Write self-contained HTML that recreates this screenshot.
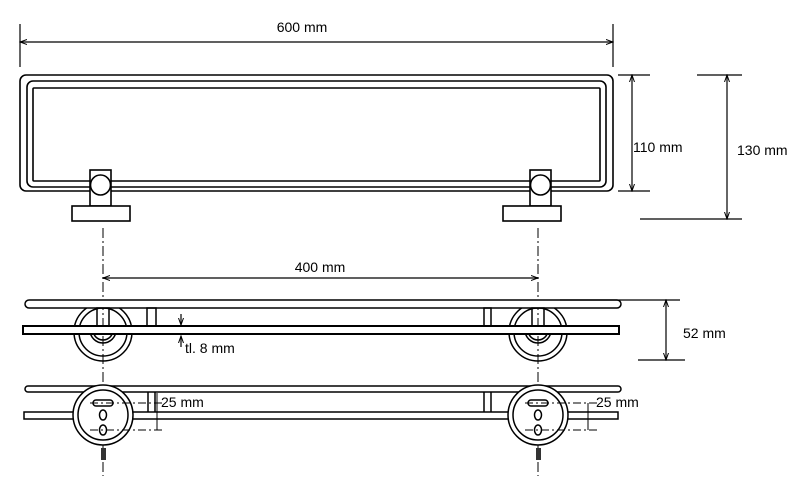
<!DOCTYPE html>
<html><head><style>html,body{margin:0;padding:0;background:#fff;}svg{display:block}</style></head>
<body>
<svg width="800" height="486" viewBox="0 0 800 486" xmlns="http://www.w3.org/2000/svg" font-family="Liberation Sans, sans-serif" font-size="14">
<defs>
<marker id="a" markerWidth="8" markerHeight="6" refX="7" refY="3" orient="auto-start-reverse" markerUnits="userSpaceOnUse"><path d="M0,0.5 L7,3 L0,5.5" fill="none" stroke="#000" stroke-width="1"/></marker>
</defs>
<g fill="none" stroke="#000" stroke-width="1.6">
<!-- top view -->
<rect x="20" y="75" width="593" height="116" rx="6"/>
<rect x="27" y="81" width="579" height="106" rx="6"/>
<rect x="33" y="88" width="567" height="93" rx="1"/>
<g fill="#fff">
<rect x="90" y="170" width="21" height="36"/>
<circle cx="100.5" cy="185" r="10"/>
<rect x="72" y="206" width="58" height="15"/>
<rect x="530" y="170" width="21" height="36"/>
<circle cx="540.5" cy="185" r="10"/>
<rect x="503" y="206" width="58" height="15"/>
</g>
</g>
<g stroke="#000" stroke-width="1.2" fill="none">
<!-- 600 dim -->
<line x1="20" y1="24" x2="20" y2="67"/>
<line x1="613" y1="24" x2="613" y2="67"/>
<line x1="20" y1="42" x2="613" y2="42" marker-start="url(#a)" marker-end="url(#a)"/>
<!-- 110 -->
<line x1="618" y1="75" x2="650" y2="75"/><line x1="618" y1="191" x2="650" y2="191"/>
<line x1="632" y1="75" x2="632" y2="191" marker-start="url(#a)" marker-end="url(#a)"/>
<!-- 130 -->
<line x1="697" y1="75" x2="742" y2="75"/><line x1="640" y1="219" x2="742" y2="219"/>
<line x1="727" y1="75" x2="727" y2="219" marker-start="url(#a)" marker-end="url(#a)"/>
<!-- center lines -->
<line x1="103" y1="228" x2="103" y2="476" stroke-width="1" stroke-dasharray="10,3,2,3"/>
<line x1="538" y1="228" x2="538" y2="476" stroke-width="1" stroke-dasharray="10,3,2,3"/>
<!-- 400 -->
<line x1="103" y1="278" x2="538" y2="278" marker-start="url(#a)" marker-end="url(#a)"/>
</g>
<!-- middle view -->
<g stroke="#000" stroke-width="1.5" fill="none">
<circle cx="103" cy="332" r="29"/><circle cx="103" cy="332" r="24"/>
<path d="M90,330 A13,13 0 0 0 116,330 M93,330 A10,10 0 0 0 113,330"/>
<circle cx="538" cy="332" r="29"/><circle cx="538" cy="332" r="24"/>
<path d="M525,330 A13,13 0 0 0 551,330 M528,330 A10,10 0 0 0 548,330"/>
<rect x="25" y="300" width="596" height="8" rx="4" fill="#fff"/>
<rect x="23" y="326" width="596" height="8" fill="#fff" stroke-width="2"/>
<rect x="97" y="308" width="12" height="18"/>
<rect x="147" y="308" width="9" height="18"/>
<rect x="484" y="308" width="7" height="18"/>
<rect x="532" y="308" width="12" height="18"/>
</g>
<g stroke="#000" stroke-width="1.2" fill="none">
<line x1="560" y1="300" x2="680" y2="300"/><line x1="638" y1="360" x2="685" y2="360"/>
<line x1="666" y1="300" x2="666" y2="360" marker-start="url(#a)" marker-end="url(#a)"/>
<line x1="181" y1="314" x2="181" y2="325" marker-end="url(#a)"/>
<line x1="181" y1="347" x2="181" y2="336" marker-end="url(#a)"/>
</g>
<!-- bottom view -->
<g stroke="#000" stroke-width="1.5" fill="none">
<rect x="25" y="386" width="596" height="6" rx="3"/>
<rect x="24" y="412" width="594" height="7"/>
<line x1="484" y1="392" x2="484" y2="412"/><line x1="491" y1="392" x2="491" y2="412"/>
<line x1="148" y1="392" x2="148" y2="412"/><line x1="155" y1="392" x2="155" y2="412"/>
<circle cx="103" cy="415" r="30" fill="#fff"/><circle cx="103" cy="415" r="25"/>
<rect x="93" y="400" width="20" height="6" rx="3"/>
<ellipse cx="103" cy="415" rx="3.5" ry="5"/><ellipse cx="103" cy="430" rx="3.5" ry="5"/>
<circle cx="538" cy="415" r="30" fill="#fff"/><circle cx="538" cy="415" r="25"/>
<rect x="528" y="400" width="20" height="6" rx="3"/>
<ellipse cx="538" cy="415" rx="3.5" ry="5"/><ellipse cx="538" cy="430" rx="3.5" ry="5"/>
</g>
<g fill="#333"><rect x="101" y="448" width="5" height="12"/><rect x="536" y="448" width="5" height="12"/></g>
<g stroke="#000" stroke-width="1" fill="none">
<line x1="90" y1="403" x2="162" y2="403" stroke-dasharray="8,3,2,3"/>
<line x1="90" y1="430" x2="162" y2="430" stroke-dasharray="8,3,2,3"/>
<line x1="157" y1="393" x2="157" y2="430"/>
<line x1="525" y1="403" x2="597" y2="403" stroke-dasharray="8,3,2,3"/>
<line x1="525" y1="430" x2="597" y2="430" stroke-dasharray="8,3,2,3"/>
<line x1="588" y1="403" x2="588" y2="430"/>
</g>
<g fill="#000">
<text x="302" y="32" text-anchor="middle">600 mm</text>
<text x="633" y="152">110 mm</text>
<text x="737" y="155">130 mm</text>
<text x="320" y="272" text-anchor="middle">400 mm</text>
<text x="683" y="338">52 mm</text>
<text x="185" y="353">tl. 8 mm</text>
<text x="161" y="407">25 mm</text>
<text x="596" y="407">25 mm</text>
</g>
</svg>
</body></html>
